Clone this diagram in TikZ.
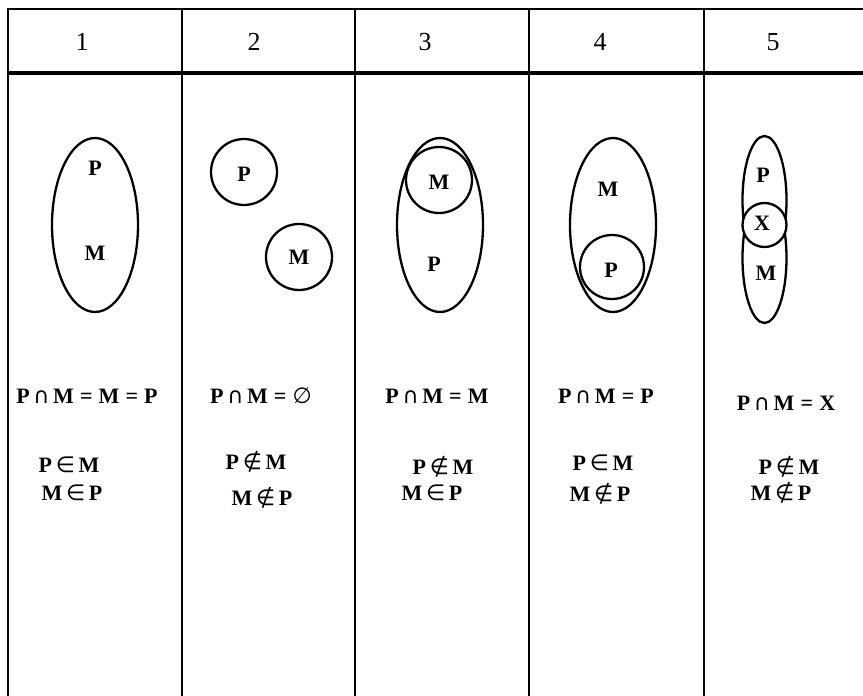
\documentclass[tikz,border=0pt]{standalone}
\usepackage{fontspec}
\setmainfont{Liberation Serif}
\newfontfamily\symfont{DejaVu Sans}
\newcommand{\setcut}{\,{\symfont\mdseries\char"2229}\,}
\newcommand{\elem}{\,{\symfont\mdseries\char"2208}\,}
\newcommand{\nelem}{\,{\symfont\mdseries\char"2209}\,}
\newcommand{\noset}{{\symfont\mdseries\char"2205}}
\newcommand{\eq}{\;=\;}
\tikzset{
  rule/.style={line width=2.6pt},
  headrule/.style={line width=3.4pt},
  setline/.style={line width=2.3pt},
  num/.style={font=\fontsize{26}{28}\selectfont, inner sep=0pt},
  lbl/.style={font=\fontsize{22}{24}\selectfont\bfseries, inner sep=0pt},
  rel/.style={font=\fontsize{22}{24}\selectfont\bfseries, inner sep=0pt}
}

\begin{document}
\begin{tikzpicture}[x=1pt,y=-1pt]
\useasboundingbox (0,0) rectangle (863,696);

% table frame
\draw[line width=2.2pt] (7,9) -- (863,9);
\draw[headrule] (7,73) -- (863,73);
\foreach \x in {8,182,355,529,704}
  \draw[rule] (\x,8) -- (\x,696);

% column numbers
\foreach \n/\x in {1/82,2/254,3/425,4/600,5/773}
  \node[num] (head\n) at (\x,42) {\n};

% 1: P and M coincide
\draw[setline] (95,225) ellipse [x radius=43, y radius=87];
\node[lbl] (p1) at (95,168) {P};
\node[lbl] (m1) at (95,253) {M};

% 2: disjoint sets
\draw[setline] (244,172) circle [radius=33];
\draw[setline] (299,257) circle [radius=33];
\node[lbl] (p2) at (244,174) {P};
\node[lbl] (m2) at (299,257) {M};

% 3: M inside P
\draw[setline] (440,225) ellipse [x radius=43, y radius=87];
\draw[setline] (439,180) circle [radius=33];
\node[lbl] (m3) at (439,182) {M};
\node[lbl] (p3) at (434,264) {P};

% 4: P inside M
\draw[setline] (613,225) ellipse [x radius=43, y radius=87];
\draw[setline] (612,267) circle [radius=32];
\node[lbl] (m4) at (608,189) {M};
\node[lbl] (p4) at (611,270) {P};

% 5: P and M overlap in X
\begin{scope}
  \clip (730,120) rectangle (800,225);
  \draw[setline] (764.5,200) ellipse [x radius=22, y radius=64];
\end{scope}
\begin{scope}
  \clip (730,225) rectangle (800,330);
  \draw[setline] (764.5,258) ellipse [x radius=22, y radius=65];
\end{scope}
\draw[setline, fill=white] (764.5,225) circle [radius=22];
\node[lbl] (p5) at (763,175) {P};
\node[lbl] (x5) at (762,223) {X};
\node[lbl] (m5) at (766,273) {M};

% relations
\node[rel] (cut1) at (87,396) {P\setcut M\eq M\eq P};
\node[rel] (in1a) at (69,465) {P\elem M};
\node[rel] (in1b) at (72,493) {M\elem P};

\node[rel] (cut2) at (261,396) {P\setcut M\eq\noset};
\node[rel] (in2a) at (256,462) {P\nelem M};
\node[rel] (in2b) at (262,498) {M\nelem P};

\node[rel] (cut3) at (437,396) {P\setcut M\eq M};
\node[rel] (in3a) at (443,467) {P\nelem M};
\node[rel] (in3b) at (432,493) {M\elem P};

\node[rel] (cut4) at (606,396) {P\setcut M\eq P};
\node[rel] (in4a) at (603,463) {P\elem M};
\node[rel] (in4b) at (600,494) {M\nelem P};

\node[rel] (cut5) at (786,403) {P\setcut M\eq X};
\node[rel] (in5a) at (789,467) {P\nelem M};
\node[rel] (in5b) at (781,493) {M\nelem P};
\end{tikzpicture}
\end{document}
